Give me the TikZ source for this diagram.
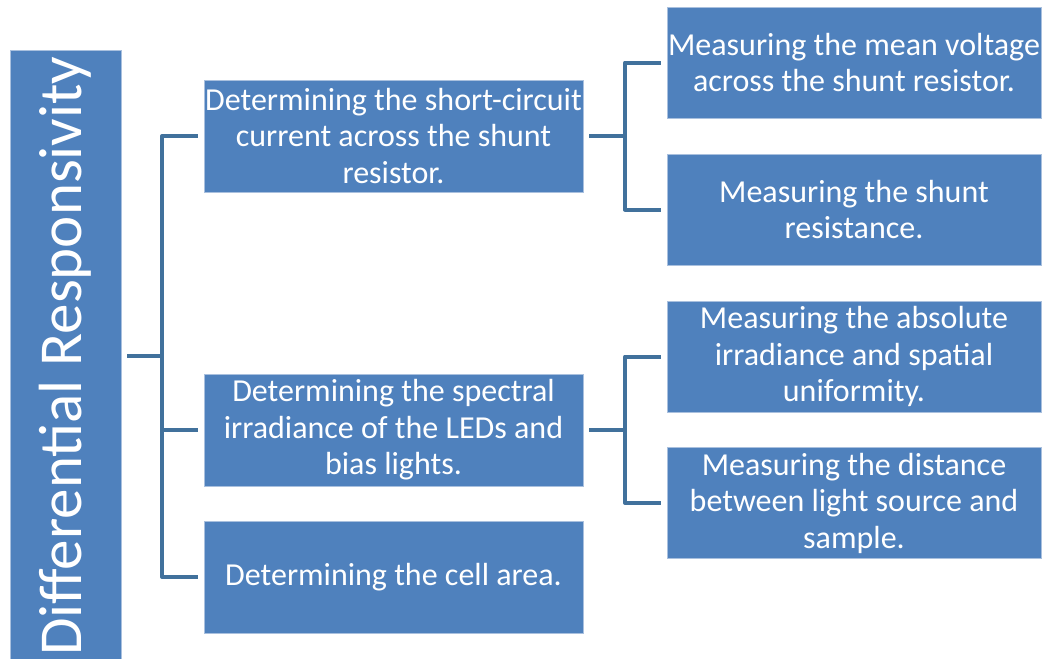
\documentclass[tikz,border=0pt]{standalone}
\usepackage{fontspec}
\setmainfont{Carlito}
\usetikzlibrary{calc}
\definecolor{boxfill}{HTML}{4F81BD}
\definecolor{boxedge}{HTML}{A9C0DE}
\definecolor{linkblue}{HTML}{41719C}

\begin{document}
\begin{tikzpicture}[x=1pt, y=-1pt,
    stepbox/.style={fill=boxfill, draw=boxedge, line width=0.8pt, text=white, align=center, inner sep=0pt, font=\fontsize{32}{36.5}\selectfont},
    link/.style={linkblue, line width=4pt, line join=round}]
  \useasboundingbox (0,0) rectangle (1045,659);
  % root column, runs off the bottom edge
  \node[stepbox, minimum width=111, minimum height=612,
    label={[rotate=90, text=white, font=\fontsize{61}{72}\selectfont]center:Differential Responsivity}] (root) at (65.5,356) {};
  % first level
  \node[stepbox, minimum width=379, minimum height=112] (det1) at (393.5,136) {Determining the short-circuit\\current across the shunt\\resistor.};
  \node[stepbox, minimum width=379, minimum height=112] (det2) at (393.5,430) {Determining the spectral\\irradiance of the LEDs and\\bias lights.};
  \node[stepbox, minimum width=379, minimum height=112] (det3) at (393.5,577) {Determining the cell area.};
  % second level
  \node[stepbox, minimum width=374, minimum height=111] (meas1) at (854,62.5) {Measuring the mean voltage\\across the shunt resistor.};
  \node[stepbox, minimum width=374, minimum height=111] (meas2) at (854,209.5) {Measuring the shunt\\resistance.};
  \node[stepbox, minimum width=374, minimum height=111] (meas3) at (854,356.5) {Measuring the absolute\\irradiance and spatial\\uniformity.};
  \node[stepbox, minimum width=374, minimum height=111] (meas4) at (854,503) {Measuring the distance\\between light source and\\sample.};
  % brackets
  \coordinate (spine) at (162,0);
  \coordinate (spineb) at (625,0);
  \draw[link] ([xshift=6pt]root.east) -- (spine |- root.east);
  \draw[link] ([xshift=-6pt]det1.west) -| (spine |- det3.west) -- ([xshift=-6pt]det3.west);
  \draw[link] (spine |- det2.west) -- ([xshift=-6pt]det2.west);
  \foreach \src/\upper/\lower in {det1/meas1/meas2, det2/meas3/meas4} {
    \draw[link] ([xshift=6pt]\src.east) -- (spineb |- \src.east);
    \draw[link] ([xshift=-6pt]\upper.west) -| (spineb |- \lower.west) -- ([xshift=-6pt]\lower.west);
  }
\end{tikzpicture}
\end{document}
